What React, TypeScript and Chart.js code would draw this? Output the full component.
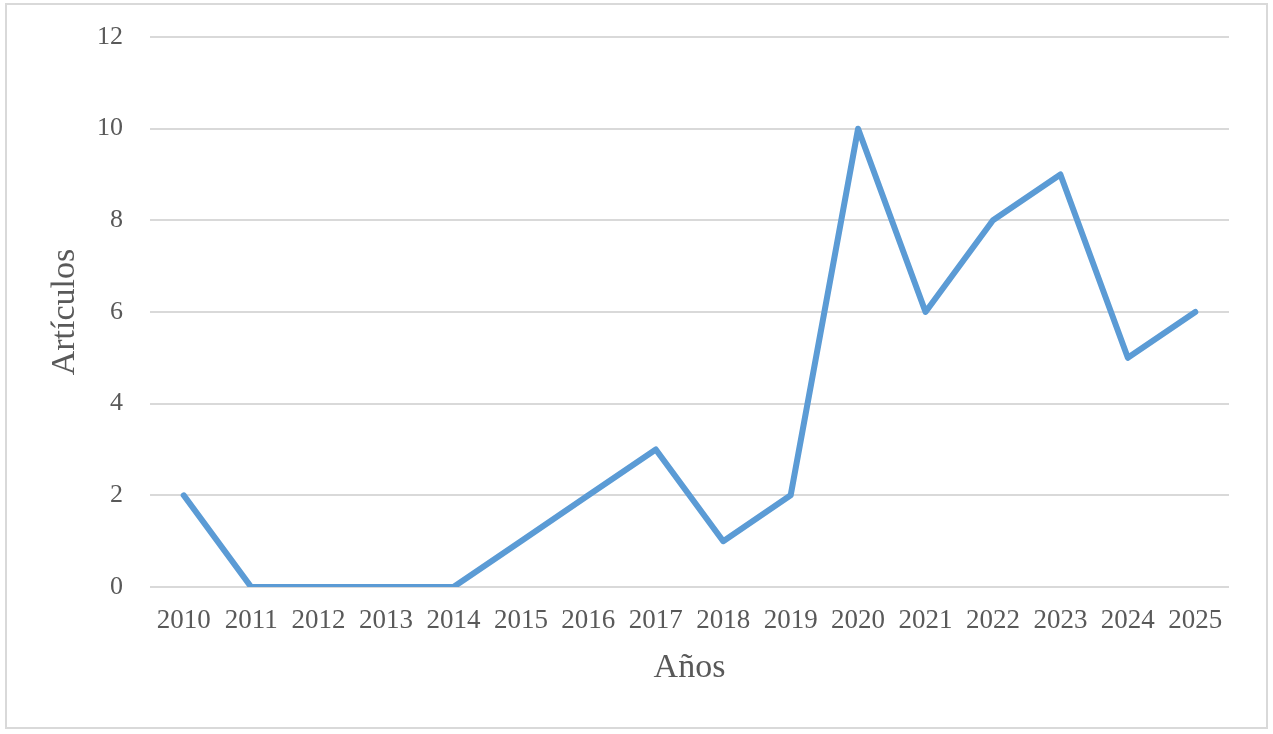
import React, { useEffect, useRef } from "react";
import { Chart, registerables } from "chart.js";

Chart.register(...registerables);

const years: string[] = [
  "2010", "2011", "2012", "2013", "2014", "2015", "2016", "2017",
  "2018", "2019", "2020", "2021", "2022", "2023", "2024", "2025",
];
const articles: number[] = [2, 0, 0, 0, 0, 1, 2, 3, 1, 2, 10, 6, 8, 9, 5, 6];
const yMin = 0;
const yMax = 12;
const yStep = 2;
const xTitle = "Años";
const yTitle = "Artículos";

const FONT = "'Liberation Serif', 'Times New Roman', serif";
const TEXT = "#595959";
const GRID = "#d9d9d9";
const LINE = "#5b9bd5";

export default function App() {
  const ref = useRef<HTMLCanvasElement | null>(null);

  useEffect(() => {
    if (!ref.current) return;
    const chart = new Chart(ref.current, {
      type: "line",
      data: {
        labels: years,
        datasets: [
          {
            data: articles,
            borderColor: LINE,
            backgroundColor: LINE,
            borderWidth: 6,
            borderCapStyle: "round",
            borderJoinStyle: "round",
            pointRadius: 0,
            pointHoverRadius: 0,
            tension: 0,
            fill: false,
          },
        ],
      },
      options: {
        animation: false,
        responsive: false,
        devicePixelRatio: 1,
        layout: { padding: { left: 45, right: 44, top: 37, bottom: 0 } },
        plugins: {
          legend: { display: false },
          tooltip: { enabled: false },
        },
        scales: {
          x: {
            offset: true,
            grid: { display: false, drawTicks: false },
            border: { display: false },
            ticks: {
              color: TEXT,
              font: { family: FONT, size: 27 },
              padding: 18,
              maxRotation: 0,
              autoSkip: false,
            },
            title: {
              display: true,
              text: xTitle,
              color: TEXT,
              font: { family: FONT, size: 34 },
              padding: { top: 0, bottom: 46 },
            },
            afterFit: (scale: any) => {
              scale.height = 147;
              scale.paddingLeft = 0;
              scale.paddingRight = 0;
            },
          },
          y: {
            min: yMin,
            max: yMax,
            grid: { color: GRID, lineWidth: 2, drawTicks: false },
            border: { display: false },
            ticks: {
              stepSize: yStep,
              color: TEXT,
              font: { family: FONT, size: 26 },
              padding: 27,
            },
            title: {
              display: true,
              text: yTitle,
              color: TEXT,
              font: { family: FONT, size: 34 },
              padding: { top: 0, bottom: 0 },
            },
            afterFit: (scale: any) => {
              scale.width = 105;
              scale.paddingTop = 0;
              scale.paddingBottom = 0;
            },
          },
        },
      },
    });
    return () => chart.destroy();
  }, []);

  return (
    <div
      style={{
        position: "fixed",
        left: 0,
        top: 0,
        width: 1273,
        height: 734,
        background: "#fff",
      }}
    >
      <div
        style={{
          position: "absolute",
          left: 5,
          top: 3,
          width: 1259,
          height: 722,
          border: "2px solid #d9d9d9",
        }}
      />
      <canvas
        ref={ref}
        width={1273}
        height={734}
        style={{ position: "absolute", left: 0, top: 0, width: 1273, height: 734 }}
      />
    </div>
  );
}
